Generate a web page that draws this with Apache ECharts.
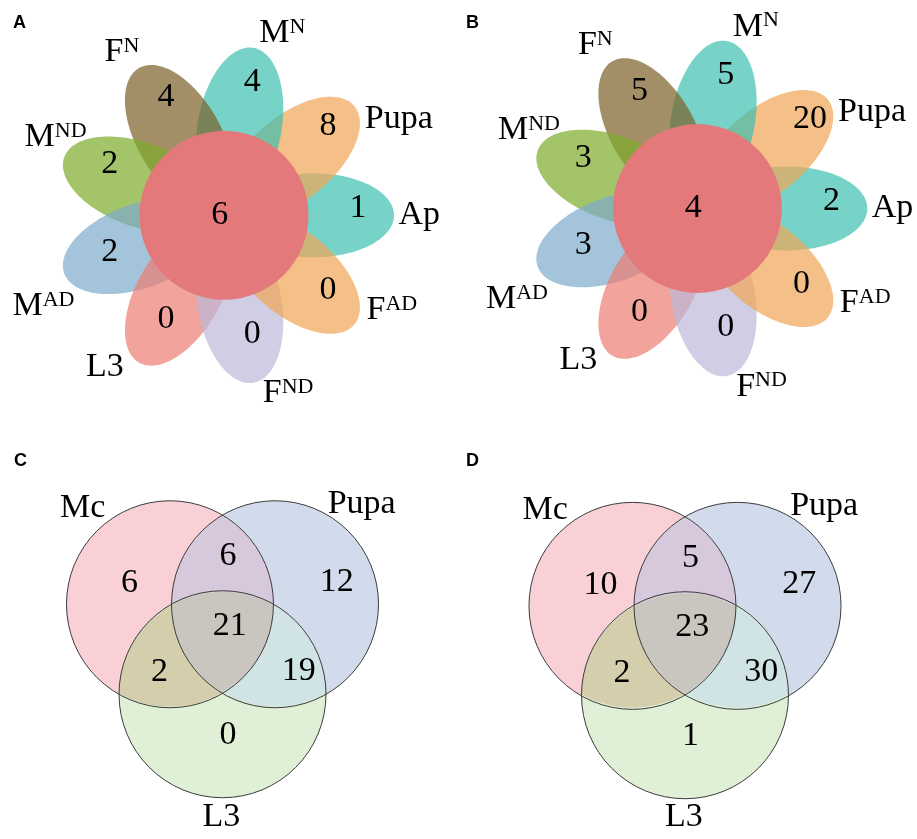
<!DOCTYPE html>
<html>
<head>
<meta charset="utf-8">
<script src="https://cdn.jsdelivr.net/npm/echarts@6/dist/echarts.min.js"></script>
<style>
  html, body { margin: 0; padding: 0; background: #ffffff; }
  #chart { width: 917px; height: 839px; }
</style>
</head>
<body>
<div id="chart"></div>
<script>
// ---- data ---------------------------------------------------------------
// Flower diagrams (A, B): nine stages sharing one core set
const flowerNames = ['Ap', 'Pupa', 'M', 'F', 'M', 'M', 'L3', 'F', 'F'];
const flowerSups  = ['', '', 'N', 'N', 'ND', 'AD', '', 'ND', 'AD'];
const flowerUniqueA = [1, 8, 4, 4, 2, 2, 0, 0, 0];
const flowerCoreA = 6;
const flowerUniqueB = [2, 20, 5, 5, 3, 3, 0, 0, 0];
const flowerCoreB = 4;

// Three-set Venn diagrams (C, D)
const vennSets = ['Mc', 'Pupa', 'L3'];
// regions: Mc only, Mc∩Pupa, Pupa only, all three, Mc∩L3, Pupa∩L3, L3 only
const vennRegions = ['Mc', 'Mc∩Pupa', 'Pupa', 'Mc∩Pupa∩L3', 'Mc∩L3', 'Pupa∩L3', 'L3'];
const vennCountsC = [6, 6, 12, 21, 2, 19, 0];
const vennCountsD = [10, 5, 27, 23, 2, 30, 1];

const panelLetters = ['A', 'B', 'C', 'D'];

// ---- layout & style -----------------------------------------------------
const SERIF = '"Liberation Serif", "Times New Roman", serif';
const FONT = 34, SUP_FONT = 22;

const PETAL_COLORS = ['#3dbfb0', '#f1a555', '#3dbfb0', '#7c6027', '#7cab2a',
                      '#7eabcd', '#ed7c70', '#bcb8d8', '#f1a555'];
const PETAL_ALPHA = 0.7;
const CORE_COLOR = '#e3797a';
const PETAL_STEP = 40;                 // degrees between petals
const PETAL_DIST = 1.065;              // petal centre distance (core radius = 1)
const PETAL_A = 0.947, PETAL_B = 0.497;
const COUNT_R = 1.515, COUNT_SHIFT = [0.071, -0.083];
const DIGIT_W = 0.1;                   // half a digit, in core radii
const NAME_POS = [[0, 2.31], [28.8, 2.36], [72.2, 2.26], [122, 2.28], [155, 2.2],
                  [206.6, 2.39], [231.8, 2.28], [289.8, 2.24], [330.6, 2.28]];

// Venn: circles first, then pairwise lenses, then the triple overlap
const VENN_SHAPES = [[0], [1], [2], [0, 1], [0, 2], [1, 2], [0, 1, 2]];
const VENN_FILLS = ['#f8d0d5', '#d2dbec', '#e0f0d6', '#d8c8dc', '#d4ceac', '#d0e4e6', '#c8c6be'];
const VENN_SIDE = 1.015;               // distance between circle centres (radius = 1)
// left edge x and middle y of each region count
const REGION_POS = [[-0.98, -0.50], [-0.03, -0.76], [0.94, -0.51], [-0.095, -0.08],
                    [-0.69, 0.37], [0.573, 0.355], [-0.03, 0.985]];
const SET_POS = [[-1.35, -1.235], [1.345, -1.275], [-0.01, 1.785]];

function rgba(hex, a) {
  const n = parseInt(hex.slice(1), 16);
  return 'rgba(' + (n >> 16 & 255) + ',' + (n >> 8 & 255) + ',' + (n & 255) + ',' + a + ')';
}

// grids: flower panels use core radius as unit, Venn panels use circle radius
const FS = 84.5, VS = 103.5;
const grids = [
  { cx: 224, cy: 215.3, s: FS, hx: 2.6, hy: 2.4 },
  { cx: 697.5, cy: 208.5, s: FS, hx: 2.6, hy: 2.4 },
  { cx: 222.5, cy: 636.5, s: VS, hx: 2, hy: 2 },
  { cx: 685, cy: 639.3, s: VS, hx: 2, hy: 2 }
];

const textStyle = (text, x, y, extra) => Object.assign({
  text: text, x: x, y: y,
  fill: '#000', fontFamily: SERIF, fontSize: FONT,
  align: 'center', verticalAlign: 'middle'
}, extra || {});

function nameText(k) {
  return flowerNames[k] + (flowerSups[k] ? '{s|' + flowerSups[k] + '}' : '');
}

function petalSeries(gi, counts) {
  return {
    type: 'custom', xAxisIndex: gi, yAxisIndex: gi, silent: true, animation: false,
    data: counts.map((c, k) => [k, c]),
    renderItem(params, api) {
      const k = api.value(0);
      const th = k * PETAL_STEP * Math.PI / 180;
      const ux = Math.cos(th), uy = -Math.sin(th);
      const vx = -uy, vy = ux;
      const cx = PETAL_DIST * ux, cy = PETAL_DIST * uy;
      const pts = [];
      for (let i = 0; i < 144; i++) {
        const t = i / 144 * 2 * Math.PI;
        const a = PETAL_A * Math.cos(t), b = PETAL_B * Math.sin(t);
        pts.push(api.coord([cx + a * ux + b * vx, cy + a * uy + b * vy]));
      }
      return { type: 'polygon', shape: { points: pts }, style: { fill: rgba(PETAL_COLORS[k], PETAL_ALPHA) } };
    }
  };
}

function coreSeries(gi, core) {
  return {
    type: 'custom', xAxisIndex: gi, yAxisIndex: gi, silent: true, animation: false,
    data: [[0, 0, core]],
    renderItem(params, api) {
      const c = api.coord([api.value(0), api.value(1)]);
      const r = api.size([1, 1])[0];
      const t = api.coord([-0.05, 0]);
      return {
        type: 'group', children: [
          { type: 'circle', shape: { cx: c[0], cy: c[1], r: r }, style: { fill: CORE_COLOR } },
          { type: 'text', style: textStyle(String(api.value(2)), t[0], t[1]) }
        ]
      };
    }
  };
}

function petalLabelSeries(gi, counts) {
  return {
    type: 'custom', xAxisIndex: gi, yAxisIndex: gi, silent: true, animation: false,
    data: counts.map((c, k) => [k, c]),
    renderItem(params, api) {
      const k = api.value(0);
      const th = k * PETAL_STEP * Math.PI / 180;
      const p = api.coord([COUNT_SHIFT[0] + COUNT_R * Math.cos(th) - DIGIT_W,
                           COUNT_SHIFT[1] - COUNT_R * Math.sin(th)]);
      const na = NAME_POS[k][0] * Math.PI / 180, nr = NAME_POS[k][1];
      const q = api.coord([nr * Math.cos(na), -nr * Math.sin(na)]);
      return {
        type: 'group', children: [
          { type: 'text', style: textStyle(String(api.value(1)), p[0], p[1], { align: 'left' }) },
          { type: 'text', style: textStyle(nameText(k), q[0], q[1], {
              lineHeight: FONT,
              rich: { s: { fontFamily: SERIF, fontSize: SUP_FONT, lineHeight: SUP_FONT, verticalAlign: 'top' } }
            }) }
        ]
      };
    }
  };
}

function vennCentre(k) {
  const s = VENN_SIDE;
  if (k === 0) return [-s / 2, -s * Math.sqrt(3) / 6];
  if (k === 1) return [s / 2, -s * Math.sqrt(3) / 6];
  return [0, s / Math.sqrt(3)];
}

// outline of the intersection of the given unit circles (a convex region)
function intersectionOutline(ids) {
  const pts = [];
  ids.forEach(i => {
    const c = vennCentre(i);
    for (let n = 0; n < 720; n++) {
      const t = n / 720 * 2 * Math.PI;
      const p = [c[0] + Math.cos(t), c[1] + Math.sin(t)];
      const inside = ids.every(j => {
        if (j === i) return true;
        const d = vennCentre(j);
        return (p[0] - d[0]) ** 2 + (p[1] - d[1]) ** 2 <= 1 + 1e-9;
      });
      if (inside) pts.push(p);
    }
  });
  const mx = pts.reduce((s, p) => s + p[0], 0) / pts.length;
  const my = pts.reduce((s, p) => s + p[1], 0) / pts.length;
  pts.sort((a, b) => Math.atan2(a[1] - my, a[0] - mx) - Math.atan2(b[1] - my, b[0] - mx));
  return pts;
}

function vennFillSeries(gi) {
  return {
    type: 'custom', xAxisIndex: gi, yAxisIndex: gi, silent: true, animation: false,
    data: VENN_SHAPES.map((ids, k) => [k]),
    renderItem(params, api) {
      const k = api.value(0);
      const ids = VENN_SHAPES[k];
      if (ids.length === 1) {
        const c = api.coord(vennCentre(ids[0]));
        return { type: 'circle', shape: { cx: c[0], cy: c[1], r: api.size([1, 1])[0] },
                 style: { fill: VENN_FILLS[k] } };
      }
      const pts = intersectionOutline(ids).map(p => api.coord(p));
      return { type: 'polygon', shape: { points: pts }, style: { fill: VENN_FILLS[k] } };
    }
  };
}

function vennOutlineSeries(gi) {
  return {
    type: 'custom', xAxisIndex: gi, yAxisIndex: gi, silent: true, animation: false,
    data: vennSets.map((name, k) => [k]),
    renderItem(params, api) {
      const c = api.coord(vennCentre(api.value(0)));
      return { type: 'circle', shape: { cx: c[0], cy: c[1], r: api.size([1, 1])[0] },
               style: { fill: 'none', stroke: '#3c3c3c', lineWidth: 1 } };
    }
  };
}

function vennLabelSeries(gi, counts) {
  return {
    type: 'custom', xAxisIndex: gi, yAxisIndex: gi, silent: true, animation: false,
    data: counts.map((c, k) => [k, c]),
    renderItem(params, api) {
      const k = api.value(0);
      const p = api.coord(REGION_POS[k]);
      const children = [{ type: 'text', style: textStyle(String(api.value(1)), p[0], p[1], { align: 'left' }) }];
      if (k < vennSets.length) {
        const q = api.coord(SET_POS[k]);
        children.push({ type: 'text', style: textStyle(vennSets[k], q[0], q[1]) });
      }
      return { type: 'group', children: children };
    }
  };
}

const letterPos = [[13, 14], [466, 14], [14, 452], [466, 452]];

const option = {
  backgroundColor: '#ffffff',
  animation: false,
  title: panelLetters.map((t, i) => ({
    text: t, left: letterPos[i][0], top: letterPos[i][1], padding: 0,
    textStyle: { fontFamily: '"Liberation Sans", Arial, sans-serif', fontWeight: 'bold', fontSize: 18, color: '#000' }
  })),
  grid: grids.map(g => ({
    left: g.cx - g.hx * g.s, top: g.cy - g.hy * g.s,
    width: 2 * g.hx * g.s, height: 2 * g.hy * g.s
  })),
  xAxis: grids.map((g, i) => ({ type: 'value', gridIndex: i, min: -g.hx, max: g.hx, show: false })),
  yAxis: grids.map((g, i) => ({ type: 'value', gridIndex: i, min: -g.hy, max: g.hy, inverse: true, show: false })),
  series: [
    petalSeries(0, flowerUniqueA), coreSeries(0, flowerCoreA), petalLabelSeries(0, flowerUniqueA),
    petalSeries(1, flowerUniqueB), coreSeries(1, flowerCoreB), petalLabelSeries(1, flowerUniqueB),
    vennFillSeries(2), vennOutlineSeries(2), vennLabelSeries(2, vennCountsC),
    vennFillSeries(3), vennOutlineSeries(3), vennLabelSeries(3, vennCountsD)
  ]
};

const chart = echarts.init(document.getElementById('chart'));
chart.setOption(option);
</script>
</body>
</html>
